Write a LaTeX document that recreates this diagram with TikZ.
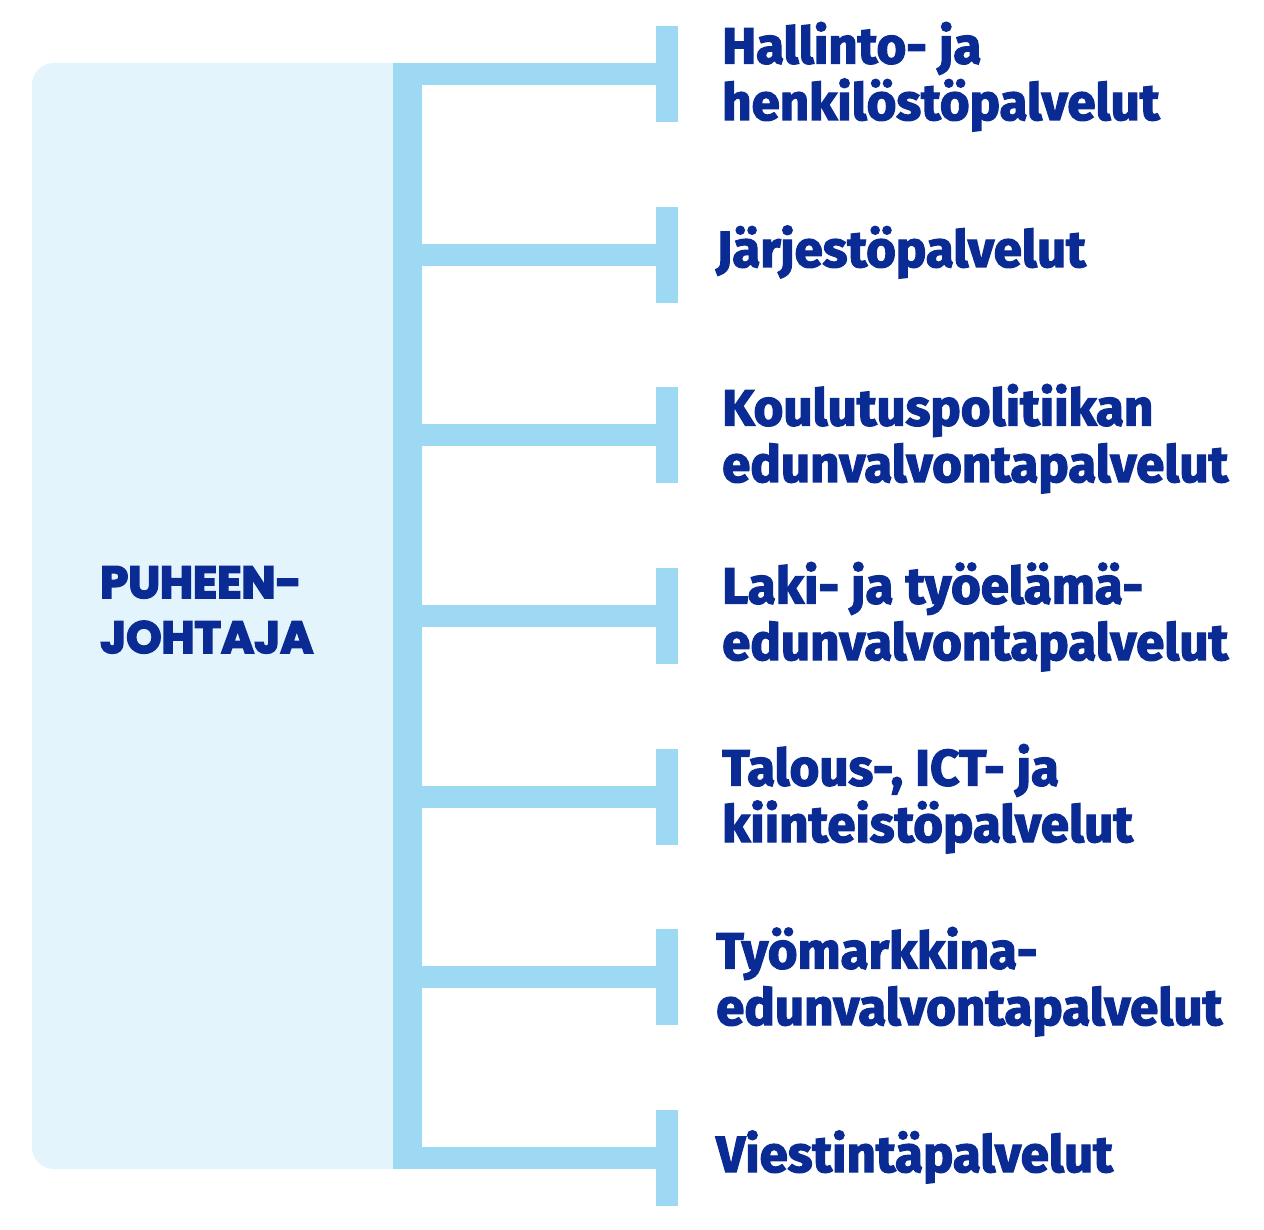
\documentclass[tikz,border=0pt]{standalone}
\usepackage{fontspec}
\setmainfont{Fira Sans}[BoldFeatures={FakeBold=2.5}]
\newfontfamily\chairfont{Poppins}[BoldFeatures={FakeBold=4}]
\usepackage{xcolor}
\usepackage{tikz}

\definecolor{barblue}{HTML}{9DD9F2}
\definecolor{panelblue}{HTML}{E3F4FC}
\definecolor{inkblue}{HTML}{0A2A94}

\begin{document}
\begin{tikzpicture}[x=1pt, y=-1pt,
    tickbar/.style={rectangle, fill=barblue, inner sep=0pt, minimum width=22pt, minimum height=96pt},
    branch/.style={barblue, line width=22pt},
    dept/.style={anchor=base west, align=left, inner sep=0pt, text=inkblue, font=\fontsize{51}{56.5}\selectfont\bfseries}
]
    \useasboundingbox (0,0) rectangle (1264,1230);

    % chair panel and trunk
    \fill[panelblue, rounded corners=22pt] (32,63) rectangle (422,1169);
    \node[rectangle, fill=barblue, inner sep=0pt, minimum width=29pt, minimum height=1106pt] (trunk) at (407.5,616) {};
    \node[anchor=base west, align=left, inner sep=0pt, text=inkblue, font=\chairfont\fontsize{45}{55}\selectfont\bfseries] (chair) at (100,653) {PUHEEN-\\JOHTAJA};

    % end stops
    \node[tickbar] (tick1) at (667,74) {};
    \node[tickbar] (tick2) at (667,254.7) {};
    \node[tickbar] (tick3) at (667,435.3) {};
    \node[tickbar] (tick4) at (667,616) {};
    \node[tickbar] (tick5) at (667,796.7) {};
    \node[tickbar] (tick6) at (667,977.3) {};
    \node[tickbar] (tick7) at (667,1158) {};

    % branches
    \foreach \i in {1,...,7}
        \draw[branch] (trunk.center |- tick\i.center) -- (tick\i.center);

    % departments (base = last line)
    \node[dept] (hallinto) at (722,120) {Hallinto- ja\\henkilöstöpalvelut};
    \node[dept] (jarjesto) at (716,267) {Järjestöpalvelut};
    \node[dept] (koulutus) at (722,482) {Koulutuspolitiikan\\edunvalvontapalvelut};
    \node[dept] (laki) at (722,660) {Laki- ja työelämä-\\edunvalvontapalvelut};
    \node[dept] (talous) at (722,842) {Talous-, ICT- ja\\kiinteistöpalvelut};
    \node[dept] (tyomarkkina) at (716,1025) {Työmarkkina-\\edunvalvontapalvelut};
    \node[dept] (viestinta) at (716,1172) {Viestintäpalvelut};
\end{tikzpicture}
\end{document}
